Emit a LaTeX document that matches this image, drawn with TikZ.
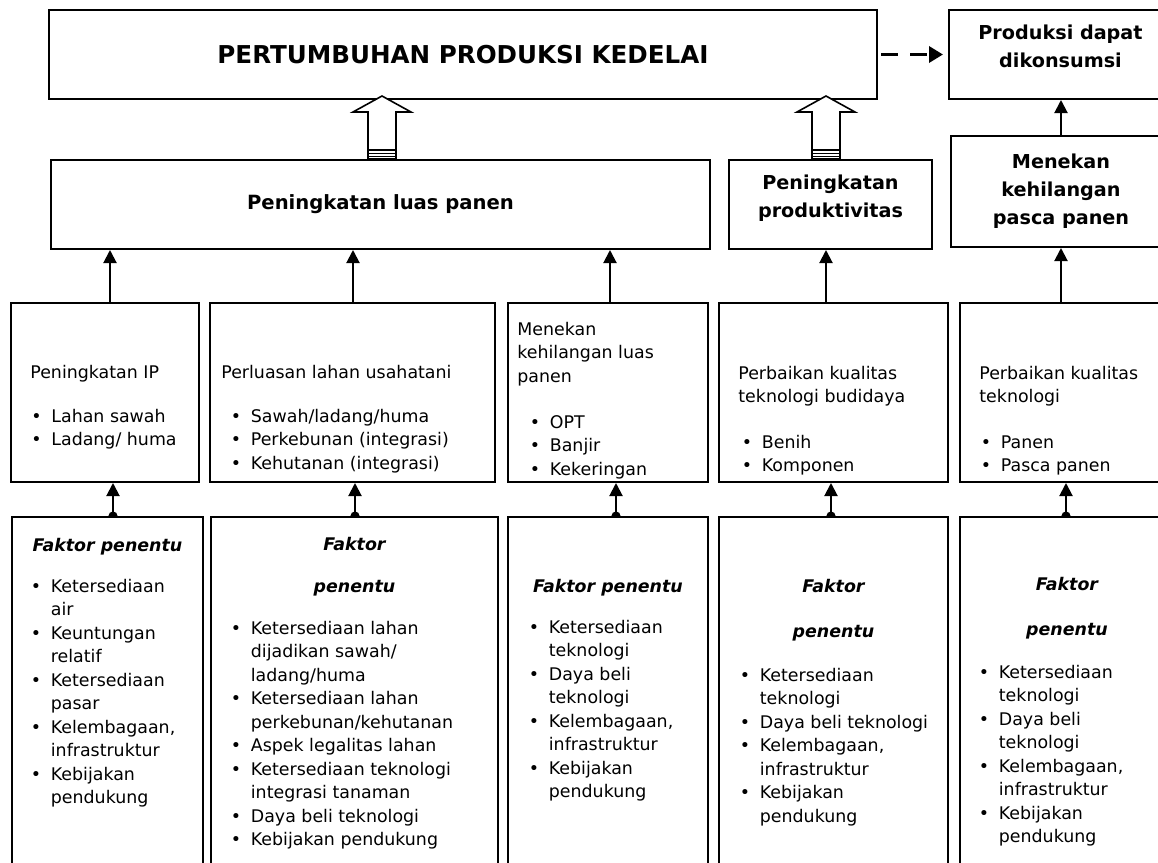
\documentclass[tikz,border=0pt]{standalone}
\usepackage{fontspec}
\setmainfont{DejaVu Sans}
\usetikzlibrary{arrows.meta}
\usetikzlibrary{backgrounds}
\tikzset{box/.style={rectangle, draw=black, line width=1pt, fill=white, inner sep=2pt}}
\tikzset{toptext/.style={font=\fontsize{12.3}{14}\selectfont\bfseries}}
\tikzset{midtext/.style={font=\fontsize{9.6}{14}\selectfont\bfseries, align=center}}
\tikzset{bodytext/.style={font=\fontsize{8.7}{11.75}\selectfont, anchor=base west, inner sep=0pt}}
\tikzset{headtext/.style={font=\fontsize{8.7}{11.75}\selectfont\bfseries\itshape, anchor=base, inner sep=0pt}}
\tikzset{arr/.style={line width=1pt, -{Triangle[length=6.5pt,width=6.5pt]}}}
\tikzset{dotarr/.style={line width=1pt, {Circle[length=4.5pt]}-{Triangle[length=6.5pt,width=6.5pt]}, shorten <=-2.25pt}}
\tikzset{dasharr/.style={line width=1.7pt, dash pattern=on 8.5pt off 6pt, -{Triangle[length=7pt,width=8pt]}}}
\tikzset{hollow/.style={draw=black, line width=0.8pt, fill=white}}
\newcommand{\bul}{\makebox[10pt][l]{\textbullet}}
\newcommand{\ind}{\hspace*{10pt}}
\newcommand{\txt}[1]{\begin{tabular}[t]{@{}l@{}}#1\end{tabular}}
\newcommand{\txtc}[1]{\begin{tabular}[t]{@{}c@{}}#1\end{tabular}}
\newcommand{\hollowarrow}[1]{%
  \filldraw[hollow] (#1) ++(-14,0) -- ++(0,-47) -- ++(-15,0) -- ++(29,-16) -- ++(29,16) -- ++(-15,0) -- ++(0,47) -- cycle;
  \draw[line width=0.8pt] (#1) ++(-14,-9) -- ++(28,0);
  \draw[line width=0.8pt] (#1) ++(-14,-5.5) -- ++(28,0);
  \draw[line width=0.8pt] (#1) ++(-14,-2.5) -- ++(28,0);}

\begin{document}
\begin{tikzpicture}[x=0.5pt, y=-0.5pt]
        \useasboundingbox (0,0) rectangle (1158,863);
        \clip (0,0) rectangle (1158,863);

        % top row
        \node [box, toptext, minimum width=414pt, minimum height=44.5pt](growth) at (463,54.5){PERTUMBUHAN PRODUKSI KEDELAI};
        \node [box, midtext, text depth=8pt, minimum width=111.5pt, minimum height=44.5pt](consume) at (1060.5,54.5){Produksi dapat\\dikonsumsi};

        % second row
        \node [box, midtext, font=\fontsize{9.8}{14}\selectfont\bfseries, minimum width=329.5pt, minimum height=44.5pt](area) at (380.5,204.5){Peningkatan luas panen};
        \node [box, midtext, text depth=8pt, minimum width=101.5pt, minimum height=44.5pt](yield) at (830.5,204.5){Peningkatan\\produktivitas};
        \node [box, midtext, minimum width=110pt, minimum height=55.5pt](postharvest) at (1061,191.5){Menekan\\kehilangan\\pasca panen};

        % third row
        \node [box, minimum width=94pt, minimum height=89.5pt](ip) at (105,392.5){};
        \node [box, minimum width=142.5pt, minimum height=89.5pt](expand) at (352.5,392.5){};
        \node [box, minimum width=100pt, minimum height=89.5pt](loss) at (608,392.5){};
        \node [box, minimum width=114.5pt, minimum height=89.5pt](tech) at (833.5,392.5){};
        \node [box, minimum width=106pt, minimum height=89.5pt](posttech) at (1066,392.5){};

        \node [bodytext](ip-title) at (30,378){Peningkatan IP};
        \node [bodytext](ip-list) at (31,422){\txt{\bul Lahan sawah\\ \bul Ladang/ huma}};
        \node [bodytext](expand-title) at (221,378){Perluasan lahan usahatani};
        \node [bodytext](expand-list) at (230.5,422){\txt{\bul Sawah/ladang/huma\\ \bul Perkebunan (integrasi)\\ \bul Kehutanan (integrasi)}};
        \node [bodytext](loss-title) at (517,335){\txt{Menekan\\ kehilangan luas\\ panen}};
        \node [bodytext](loss-list) at (529.5,428){\txt{\bul OPT\\ \bul Banjir\\ \bul Kekeringan}};
        \node [bodytext](tech-title) at (738,379){\txt{Perbaikan kualitas\\ teknologi budidaya}};
        \node [bodytext](tech-list) at (741.5,448){\txt{\bul Benih\\ \bul Komponen}};
        \node [bodytext](posttech-title) at (979,379){\txt{Perbaikan kualitas\\ teknologi}};
        \node [bodytext](posttech-list) at (980.5,448){\txt{\bul Panen\\ \bul Pasca panen}};

        % bottom row
        \node [box, minimum width=95.5pt, minimum height=191.5pt](f1) at (107.5,708.5){};
        \node [box, minimum width=143.5pt, minimum height=191.5pt](f2) at (354.5,708.5){};
        \node [box, minimum width=100pt, minimum height=191.5pt](f3) at (608,708.5){};
        \node [box, minimum width=114.5pt, minimum height=191.5pt](f4) at (833.5,708.5){};
        \node [box, minimum width=107.5pt, minimum height=191.5pt](f5) at (1067.5,708.5){};

        \node [headtext](f1-head) at (107.5,551){Faktor penentu};
        \node [bodytext](f1-list) at (30.5,592){\txt{\bul Ketersediaan\\ \ind air\\ \bul Keuntungan\\ \ind relatif\\ \bul Ketersediaan\\ \ind pasar\\ \bul Kelembagaan,\\ \ind infrastruktur\\ \bul Kebijakan\\ \ind pendukung}};
        \node [headtext](f2-head) at (354.5,550){\txtc{Faktor\\[9.25pt] penentu}};
        \node [bodytext](f2-list) at (230.5,634){\txt{\bul Ketersediaan lahan\\ \ind dijadikan sawah/\\ \ind ladang/huma\\ \bul Ketersediaan lahan\\ \ind perkebunan/kehutanan\\ \bul Aspek legalitas lahan\\ \bul Ketersediaan teknologi\\ \ind integrasi tanaman\\ \bul Daya beli teknologi\\ \bul Kebijakan pendukung}};
        \node [headtext](f3-head) at (608,592){Faktor penentu};
        \node [bodytext](f3-list) at (528.5,633){\txt{\bul Ketersediaan\\ \ind teknologi\\ \bul Daya beli\\ \ind teknologi\\ \bul Kelembagaan,\\ \ind infrastruktur\\ \bul Kebijakan\\ \ind pendukung}};
        \node [headtext](f4-head) at (833.5,592){\txtc{Faktor\\[10.75pt] penentu}};
        \node [bodytext](f4-list) at (739.5,681){\txt{\bul Ketersediaan\\ \ind teknologi\\ \bul Daya beli teknologi\\ \bul Kelembagaan,\\ \ind infrastruktur\\ \bul Kebijakan\\ \ind pendukung}};
        \node [headtext](f5-head) at (1067,590){\txtc{Faktor\\[10.75pt] penentu}};
        \node [bodytext](f5-list) at (978.5,678){\txt{\bul Ketersediaan\\ \ind teknologi\\ \bul Daya beli\\ \ind teknologi\\ \bul Kelembagaan,\\ \ind infrastruktur\\ \bul Kebijakan\\ \ind pendukung}};

        % arrow columns
        \coordinate (u1) at (110,0);
        \coordinate (u2) at (353,0);
        \coordinate (u3) at (610,0);
        \coordinate (u4) at (826,0);
        \coordinate (d1) at (113,0);
        \coordinate (d2) at (355,0);
        \coordinate (d3) at (616,0);
        \coordinate (d4) at (831,0);
        \coordinate (d5) at (1066,0);

        \draw [arr] (ip.north -| u1) -- (area.south -| u1);
        \draw [arr] (expand.north -| u2) -- (area.south -| u2);
        \draw [arr] (loss.north -| u3) -- (area.south -| u3);
        \draw [arr] (tech.north -| u4) -- (yield.south -| u4);
        \draw [arr] (posttech.north -| postharvest.south) -- (postharvest.south);
        \draw [arr] (postharvest.north) -- (postharvest.north |- consume.south);
        \draw [dasharr, shorten <=1.5pt, shorten >=2.5pt] (growth.east) -- (consume.west);

        \hollowarrow{area.north -| 382,0}
        \hollowarrow{yield.north -| u4}

        \begin{scope}[on background layer]
        \draw [dotarr] (f1.north -| d1) -- (ip.south -| d1);
        \draw [dotarr] (f2.north -| d2) -- (expand.south -| d2);
        \draw [dotarr] (f3.north -| d3) -- (loss.south -| d3);
        \draw [dotarr] (f4.north -| d4) -- (tech.south -| d4);
        \draw [dotarr] (f5.north -| d5) -- (posttech.south -| d5);
        \end{scope}
\end{tikzpicture}
\end{document}
